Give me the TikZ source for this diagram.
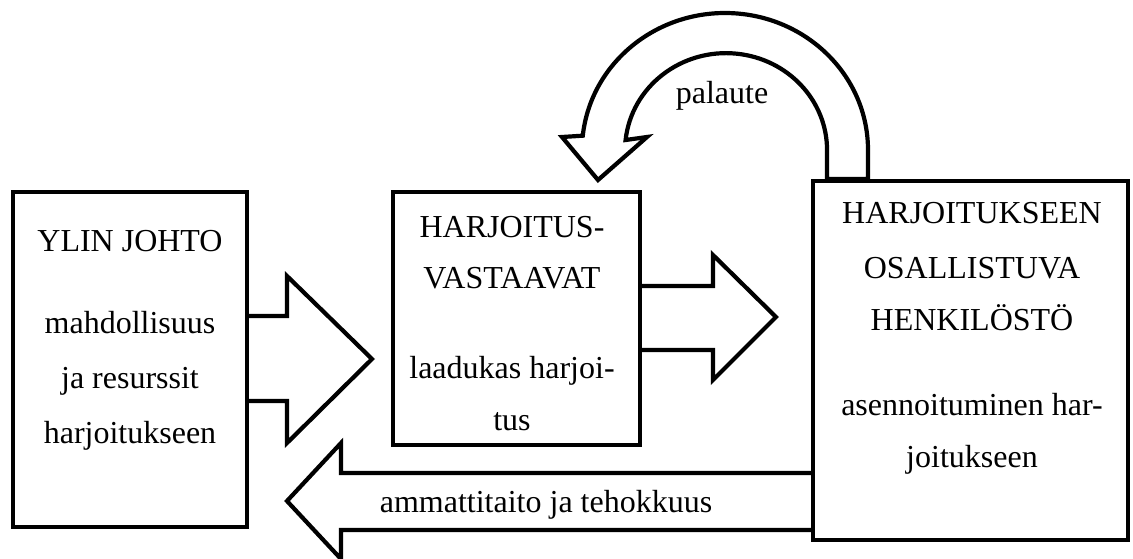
\documentclass[tikz,border=0pt]{standalone}
\usepackage{fontspec}
\setmainfont{Liberation Serif}
\begin{document}
\begin{tikzpicture}[x=1pt,y=-1pt,
  line width=4.2pt,
  box/.style={draw, rectangle, inner sep=0pt, outer sep=0pt},
  txt/.style={font=\fontsize{32}{38}\selectfont, inner sep=0pt, anchor=base},
  blockarrow/.style={draw, line join=miter}]
\useasboundingbox (0,0) rectangle (1133,558);
% boxes
\node[box, minimum width=234pt, minimum height=335pt] (L) at (130,359.5) {};
\node[box, minimum width=247pt, minimum height=253pt] (M) at (516.5,318.5) {};
\node[box, minimum width=315pt, minimum height=359pt] (R) at (970.5,360.5) {};
% block arrows
\draw[blockarrow] (L.east |- 0,316) -- (287,316) -- (287,276) -- (372,359) -- (287,443) -- (287,401) -- (L.east |- 0,401);
\draw[blockarrow] (M.east |- 0,286) -- (713,286) -- (713,255) -- (776,317) -- (713,380) -- (713,350) -- (M.east |- 0,350);
\draw[blockarrow] (R.west |- 0,473) -- (341,473) -- (341,443) -- (287,501) -- (341,559) -- (341,530) -- (R.west |- 0,530);
% curved feedback arrow
\draw[blockarrow] (868,179) -- (868,150) arc[start angle=0, end angle=174, x radius=143pt, y radius=137pt]
  -- (562,137) -- (598,180) -- (647,137) -- (625.6,140)
  arc[start angle=174, end angle=0, x radius=101pt, y radius=97pt] -- (827,179) -- cycle;
% texts
\node[txt] (l1) at (130,251) {YLIN JOHTO};
\node[txt] (l2) at (130,333) {mahdollisuus};
\node[txt] (l3) at (130,388) {ja resurssit};
\node[txt] (l4) at (130,443) {harjoitukseen};
\node[txt] (m1) at (512,237) {HARJOITUS-};
\node[txt] (m2) at (512,288) {VASTAAVAT};
\node[txt] (m3) at (512,378) {laadukas harjoi-};
\node[txt] (m4) at (512,430) {tus};
\node[txt] (r1) at (972,223) {HARJOITUKSEEN};
\node[txt] (r2) at (972,278) {OSALLISTUVA};
\node[txt] (r3) at (972,330) {HENKILÖSTÖ};
\node[txt] (r4) at (972,415) {asennoituminen har-};
\node[txt] (r5) at (972,467) {joitukseen};
\node[txt] (pal) at (722,103) {palaute};
\node[txt] (amm) at (546,512) {ammattitaito ja tehokkuus};
\end{tikzpicture}
\end{document}
